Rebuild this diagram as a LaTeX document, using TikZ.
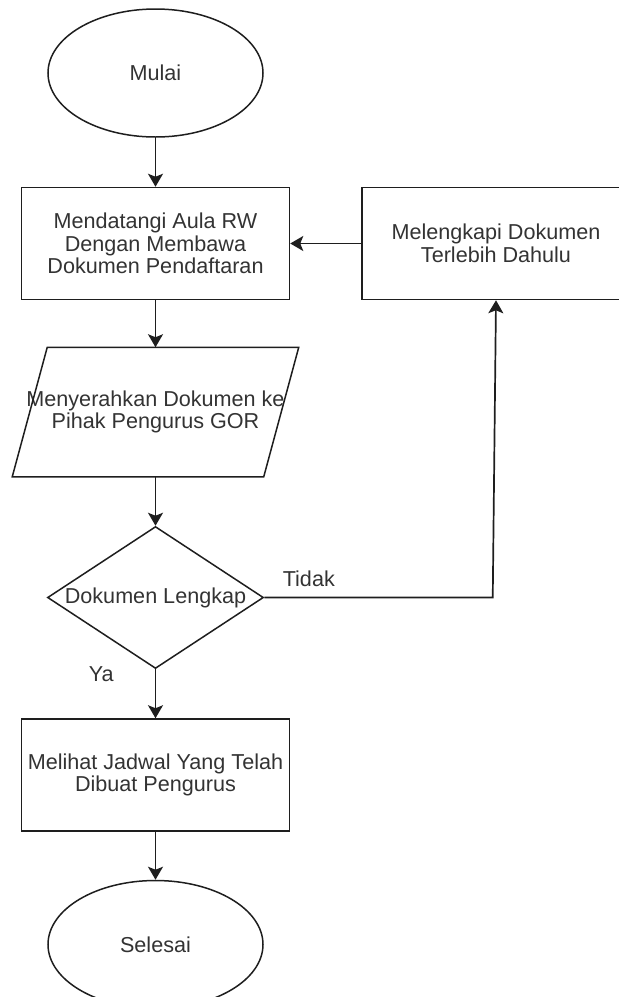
\documentclass[tikz,border=0pt]{standalone}
\usepackage{fontspec}
\setmainfont{Liberation Sans}
\usepackage{color}
\usetikzlibrary{arrows.meta,shapes,positioning}
\definecolor{textgray}{HTML}{333333}
\definecolor{linegray}{HTML}{1E1E1E}

\begin{document}
\begin{tikzpicture}
    [x=1pt, y=-1pt, line width=1.5pt, draw=linegray,
    every node/.style = {font=\fontsize{21.6}{22.5}\selectfont,
        text=textgray, align=center, inner sep=0pt},
    terminal/.style = {ellipse, draw=linegray, minimum width=215pt, minimum height=128pt},
    process/.style = {rectangle, draw=linegray, minimum width=268pt, minimum height=112pt},
    inout/.style = {minimum width=285pt, minimum height=128pt},
    decision/.style = {diamond, draw=linegray, aspect=1.52,
        minimum width=216pt, minimum height=142pt},
    flow/.style = {draw=linegray, line width=1.7pt,
        -{Stealth[length=13pt,width=15pt,inset=3pt]}}]

    \useasboundingbox (0,0) rectangle (619,997);

    \node[terminal] (mulai) at (155.5,73) {Mulai};
    \node[process, below=49pt of mulai] (datang) {Mendatangi Aula RW\\ Dengan Membawa\\ Dokumen Pendaftaran};
    \node[process, right=71pt of datang] (lengkapi) {Melengkapi Dokumen\\ Terlebih Dahulu};
    \node[inout, below=47pt of datang] (serah) {Menyerahkan Dokumen ke\\ Pihak Pengurus GOR};
    \draw[linegray] ([xshift=35pt]serah.north west) -- (serah.north east)
        -- ([xshift=-35pt]serah.south east) -- (serah.south west) -- cycle;
    \node[decision, below=49pt of serah] (cek) {Dokumen Lengkap};
    \node[process, below=49pt of cek] (jadwal) {Melihat Jadwal Yang Telah\\ Dibuat Pengurus};
    \node[terminal, below=48pt of jadwal] (selesai) {Selesai};

    \draw[flow] (mulai) -- (datang);
    \draw[flow] (lengkapi) -- (datang);
    \draw[flow] (datang) -- (serah);
    \draw[flow] (serah) -- (cek);
    \draw[flow] (cek) -- node[pos=0.1, anchor=east, xshift=-41pt] {Ya} (jadwal);
    \draw[flow] (cek.east) -- node[pos=0.195, yshift=19pt] {Tidak} ++(228.5,0) -- (lengkapi.south);
    \draw[flow] (jadwal) -- (selesai);
\end{tikzpicture}
\end{document}
